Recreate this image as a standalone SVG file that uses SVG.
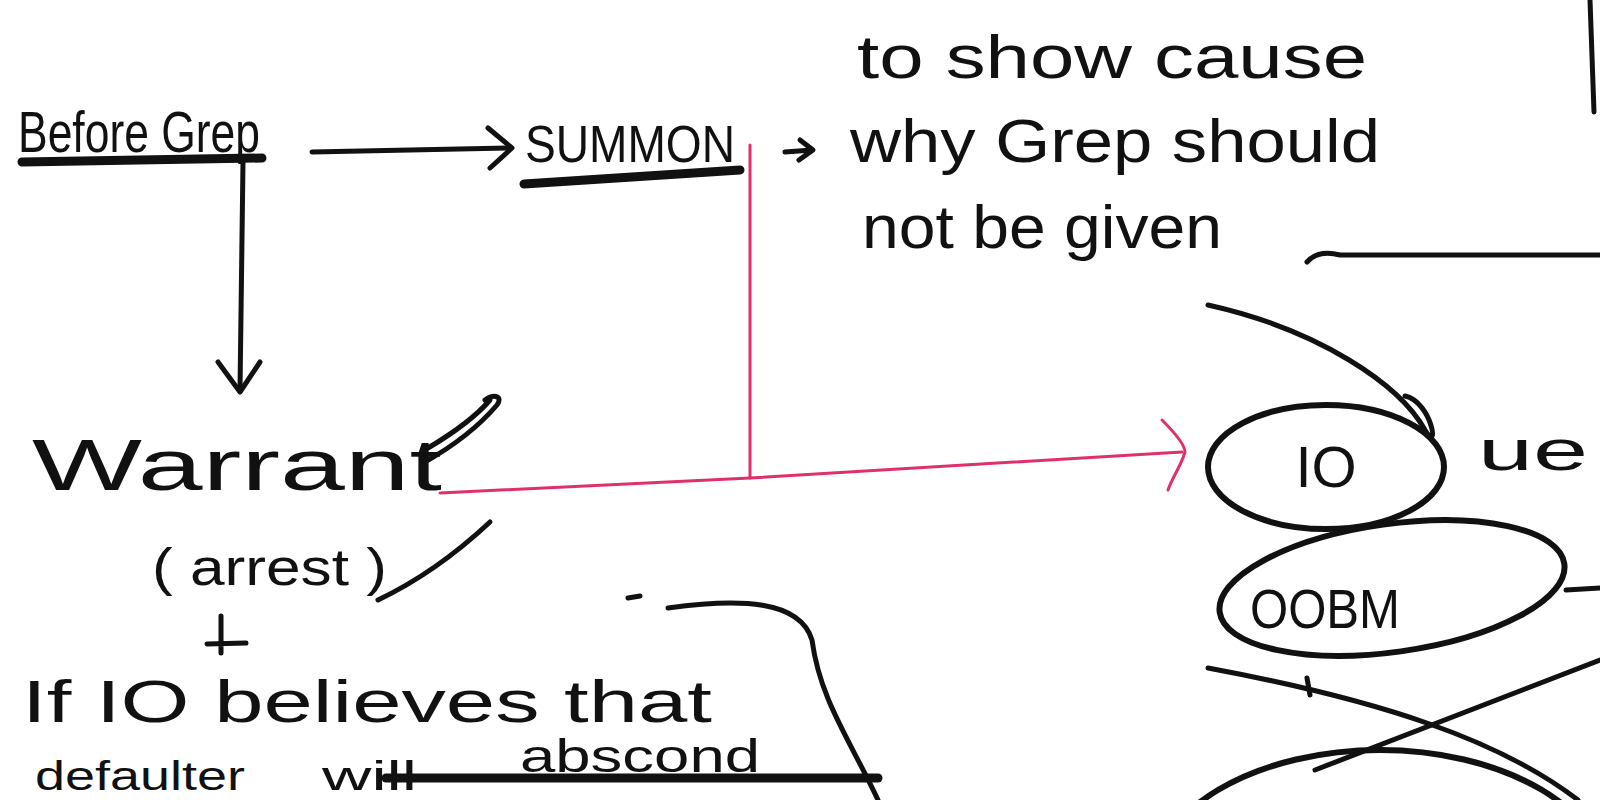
<svg xmlns="http://www.w3.org/2000/svg" width="1600" height="800" viewBox="0 0 1600 800">
<defs>
<style>
.t{font-family:"Liberation Sans","DejaVu Sans",sans-serif;fill:#111;}
.ln{fill:none;stroke:#111;stroke-width:5;stroke-linecap:round;stroke-linejoin:round;}
.thick{fill:none;stroke:#111;stroke-width:9;stroke-linecap:round;}
.pk{fill:none;stroke:#e0306a;stroke-width:3;stroke-linecap:round;stroke-linejoin:round;}
.nd{fill:none;stroke:#111;stroke-width:6;}
</style>
</defs>
<rect width="1600" height="800" fill="#ffffff"/>

<g id="before-grep">
<text class="t" x="18" y="152" font-size="58" textLength="242" lengthAdjust="spacingAndGlyphs">Before Grep</text>
<path class="thick" d="M22,162 L262,158"/>
</g>

<g id="summon">
<text class="t" x="525" y="162" font-size="52" textLength="210" lengthAdjust="spacingAndGlyphs">SUMMON</text>
<path class="thick" d="M524,184 L740,170"/>
<path class="ln" d="M785,152 L812,150 M800,140 L813,150 L799,160"/>
</g>

<g id="show-cause">
<text class="t" x="857" y="78" font-size="62" textLength="510" lengthAdjust="spacingAndGlyphs">to show cause</text>
<text class="t" x="850" y="162" font-size="62" textLength="530" lengthAdjust="spacingAndGlyphs">why Grep should</text>
<text class="t" x="862" y="248" font-size="62" textLength="360" lengthAdjust="spacingAndGlyphs">not be given</text>
<path class="ln" d="M1307,262 C1314,254 1324,251 1340,255 L1600,255"/>
<path class="ln" d="M1590,0 L1594,112" stroke-width="7"/>
</g>

<g id="warrant">
<text class="t" x="32" y="490" font-size="72" textLength="410" lengthAdjust="spacingAndGlyphs">Warrant</text>
<path class="ln" d="M425,462 C455,445 480,425 497,405 C503,397 495,393 485,400"/>
<path class="ln" d="M428,448 C455,432 478,414 490,400"/>
<text class="t" x="152" y="585" font-size="52" textLength="235" lengthAdjust="spacingAndGlyphs">( arrest )</text>
<path class="ln" d="M378,600 C420,580 460,550 490,522"/>
<path class="ln" d="M221,616 L221,653 M207,644 L246,643"/>
</g>

<g id="io-believes">
<text class="t" x="22" y="722" font-size="60" textLength="690" lengthAdjust="spacingAndGlyphs">If IO believes that</text>
<text class="t" x="35" y="790" font-size="40" textLength="210" lengthAdjust="spacingAndGlyphs">defaulter</text>
<text class="t" x="322" y="790" font-size="40" textLength="95" lengthAdjust="spacingAndGlyphs">will</text>
<text class="t" x="520" y="772" font-size="46" textLength="240" lengthAdjust="spacingAndGlyphs">abscond</text>
<path class="thick" d="M386,778 L878,778"/>
<path class="ln" d="M628,598 L640,596"/>
<path class="ln" d="M668,608 C740,598 800,600 812,640 C820,700 850,740 878,800"/>
</g>

<g id="io">
<ellipse class="nd" cx="1326" cy="467" rx="118" ry="62"/>
<text class="t" x="1326" y="487" font-size="58" text-anchor="middle">IO</text>
<text class="t" x="1478" y="470" font-size="58" textLength="110" lengthAdjust="spacingAndGlyphs">ue</text>
<path class="ln" d="M1208,305 C1320,330 1400,385 1425,430 C1440,455 1432,402 1405,396"/>
</g>

<g id="oobm">
<ellipse class="nd" cx="1392" cy="588" rx="174" ry="64" transform="rotate(-8 1392 588)"/>
<text class="t" x="1250" y="628" font-size="56" textLength="150" lengthAdjust="spacingAndGlyphs">OOBM</text>
<path class="ln" d="M1566,590 L1600,588"/>
</g>

<g id="bottom-node">
<ellipse class="nd" cx="1380" cy="885" rx="228" ry="135"/>
<path class="ln" d="M1307,678 L1310,695"/>
<path class="ln" d="M1208,668 C1380,700 1500,740 1578,800"/>
<path class="ln" d="M1315,770 L1600,660"/>
</g>

<g id="connectors">
<path class="ln" d="M312,152 L508,148"/>
<path class="ln" d="M488,128 L512,148 L490,168"/>
<path class="ln" d="M243,162 L240,390"/>
<path class="ln" d="M218,362 L240,392 L260,362"/>
<path class="pk" d="M750,145 L750,478"/>
<path class="pk" d="M440,493 L750,478 L1182,452"/>
<path class="pk" d="M1162,420 C1176,434 1185,445 1185,452 C1181,466 1172,478 1168,490"/>
</g>
</svg>
